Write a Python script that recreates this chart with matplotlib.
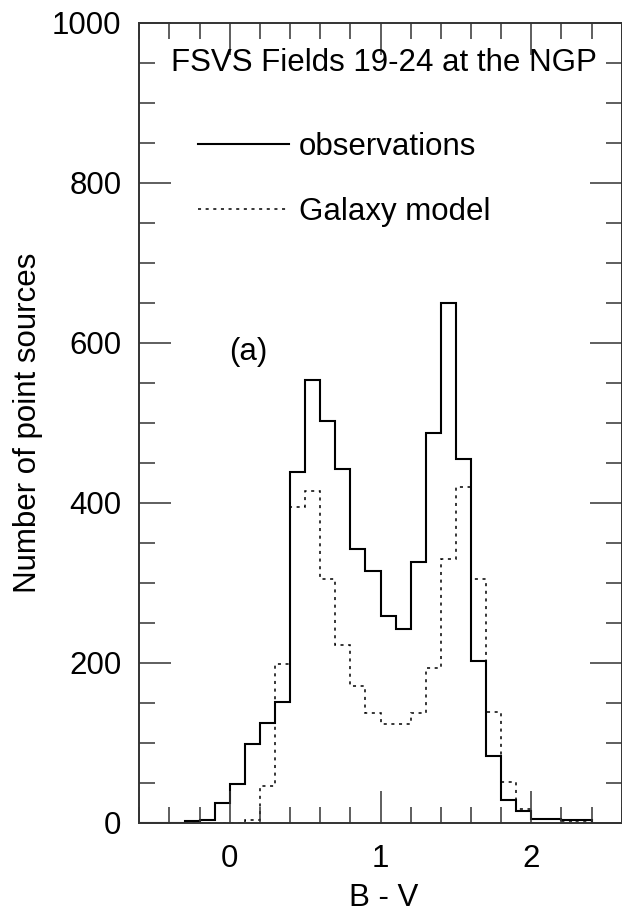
import matplotlib
matplotlib.use("Agg")
import matplotlib.pyplot as plt
from matplotlib.ticker import MultipleLocator

plt.rcParams['font.family'] = ['Liberation Sans', 'DejaVu Sans']

# B-V bin edges (width 0.1)
bin_edges = [-0.6, -0.5, -0.4, -0.3, -0.2, -0.1, 0.0, 0.1, 0.2, 0.3, 0.4,
             0.5, 0.6, 0.7, 0.8, 0.9, 1.0, 1.1, 1.2, 1.3, 1.4,
             1.5, 1.6, 1.7, 1.8, 1.9, 2.0, 2.1, 2.2, 2.3, 2.4]

# Observed counts per bin
observations = [0, 0, 0, 2, 3, 25, 48, 98, 125, 151, 439,
                554, 502, 442, 342, 315, 259, 242, 326, 487, 650,
                455, 202, 83, 29, 15, 5, 5, 3, 3]

# Galaxy model counts per bin
galaxy_model = [0, 0, 0, 0, 0, 0, 0, 4, 46, 198, 395,
                415, 305, 222, 171, 137, 124, 124, 137, 193, 330,
                420, 305, 139, 51, 17, 5, 5, 2, 1]

title_text = "FSVS Fields 19-24 at the NGP"
panel_label = "(a)"
x_label = "B - V"
y_label = "Number of point sources"
legend_labels = ["observations", "Galaxy model"]

FS = 22.5
fig = plt.figure(figsize=(6.22, 9.17), dpi=100)
ax = fig.add_axes([0.224, 0.1028, 0.7755, 0.8724])

ax.stairs(observations, bin_edges, color='black', linewidth=1.5,
          label=legend_labels[0])
ax.stairs(galaxy_model, bin_edges, color='black', linewidth=1.1,
          linestyle=(0, (2, 3)), label=legend_labels[1])

ax.set_xlim(-0.6, 2.6)
ax.set_ylim(0, 1000)

ax.xaxis.set_major_locator(MultipleLocator(1))
ax.xaxis.set_minor_locator(MultipleLocator(0.2))
ax.yaxis.set_major_locator(MultipleLocator(200))
ax.yaxis.set_minor_locator(MultipleLocator(50))

ax.tick_params(which='both', direction='in', top=True, right=True,
               color='#333333', width=1.1, labelsize=FS, pad=13)
ax.tick_params(axis='x', which='both', pad=15.5)
ax.tick_params(which='major', length=23)
ax.tick_params(which='minor', length=11.5)
for s in ax.spines.values():
    s.set_color('#333333')
    s.set_linewidth(1.4)

ax.set_xlabel(x_label, fontsize=FS)
ax.set_ylabel(y_label, fontsize=FS)
ax.xaxis.set_label_coords(0.507, -0.075)
ax.yaxis.set_label_coords(-0.200, 0.5)

ax.text(1.02, 950, title_text, fontsize=FS, ha='center', va='center')
ax.text(0.12, 588, panel_label, fontsize=FS, ha='center', va='center')

ax.legend(loc='upper left', bbox_to_anchor=(0.122, 0.864), frameon=False,
          fontsize=FS, handlelength=2.9, handletextpad=0.33,
          labelspacing=1.14, borderpad=0, borderaxespad=0)

fig.savefig("out.png", dpi=100)
